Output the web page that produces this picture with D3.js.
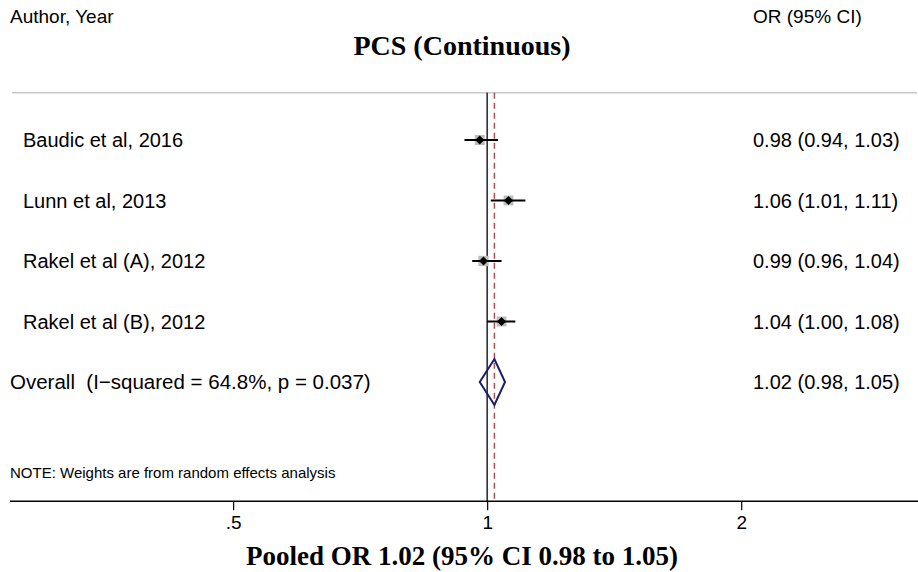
<!DOCTYPE html>
<html>
<head>
<meta charset="utf-8">
<script src="https://cdn.jsdelivr.net/npm/d3@7"></script>
<style>
  html, body { margin: 0; padding: 0; background: #fff; }
  svg { display: block; }
  text { white-space: pre; }
  .sans { font-family: "Liberation Sans", Arial, Helvetica, sans-serif; fill: #000; }
  .serif { font-family: "Liberation Serif", "Times New Roman", Times, serif; font-weight: bold; fill: #000; }
</style>
</head>
<body>
<svg id="chart" width="918" height="572"></svg>
<script>
// Study-level estimates (odds ratios with 95% CI)
const studies = ["Baudic et al, 2016", "Lunn et al, 2013", "Rakel et al (A), 2012", "Rakel et al (B), 2012"];
const or     = [0.98, 1.06, 0.99, 1.04];
const lower  = [0.94, 1.01, 0.96, 1.00];
const upper  = [1.03, 1.11, 1.04, 1.08];
const weights = [25.0, 24.0, 26.5, 24.5];   // random-effects weights (%)

// Pooled estimate
const pooled = { label: "Overall  (I\u2212squared = 64.8%, p = 0.037)", or: 1.02, lower: 0.98, upper: 1.05 };

const tickValues = [0.5, 1, 2];
const tickLabels = [".5", "1", "2"];

const svg = d3.select("#chart");
const W = 918;

// log-scaled OR axis
const x = d3.scaleLog().domain([0.272, 3.24]).range([10, 918]);
// row positions: 0..3 studies, 4 overall, 5.5 note; top rule and axis outside
const y = d3.scaleLinear().domain([0, 4]).range([140, 382]);
const yTop = y(-0.78), yAxis = y(5.97);

const fmt = d3.format(".2f");
const ciText = (e, l, u) => `${fmt(e)} (${fmt(l)}, ${fmt(u)})`;
const colX = 753;

// headers
svg.append("text").attr("class", "sans").attr("x", 10).attr("y", 23)
  .attr("font-size", 19).text("Author, Year");
svg.append("text").attr("class", "sans").attr("x", colX).attr("y", 23)
  .attr("font-size", 19).text("OR (95% CI)");
svg.append("text").attr("class", "serif").attr("x", 462).attr("y", 55)
  .attr("text-anchor", "middle").attr("font-size", 28).text("PCS (Continuous)");

// top rule
svg.append("line").attr("x1", 12).attr("x2", 917).attr("y1", yTop).attr("y2", yTop)
  .attr("stroke", "#c8c8c8").attr("stroke-width", 1.5);

// null line at OR = 1
svg.append("line").attr("x1", x(1)).attr("x2", x(1)).attr("y1", yTop).attr("y2", yAxis)
  .attr("stroke", "#222").attr("stroke-width", 1.5);

// pooled estimate line
svg.append("line").attr("x1", x(pooled.or)).attr("x2", x(pooled.or)).attr("y1", yTop).attr("y2", yAxis)
  .attr("stroke", "#a8505a").attr("stroke-width", 1.5).attr("stroke-dasharray", "6,4");

// weight boxes
const box = d3.scaleSqrt().domain([0, 25]).range([0, 10]);
const rows = studies.map((s, i) => ({ s, i, or: or[i], lo: lower[i], hi: upper[i], w: weights[i] }));

const g = svg.append("g");
g.selectAll("rect.wbox").data(rows).join("rect").attr("class", "wbox")
  .attr("x", d => x(d.or) - box(d.w) / 2)
  .attr("y", d => y(d.i) - box(d.w) / 2)
  .attr("width", d => box(d.w)).attr("height", d => box(d.w))
  .attr("fill", "#bdbdbd");

g.selectAll("line.ci").data(rows).join("line").attr("class", "ci")
  .attr("x1", d => x(d.lo)).attr("x2", d => x(d.hi))
  .attr("y1", d => y(d.i)).attr("y2", d => y(d.i))
  .attr("stroke", "#000").attr("stroke-width", 2);

g.selectAll("path.pt").data(rows).join("path").attr("class", "pt")
  .attr("transform", d => `translate(${x(d.or)},${y(d.i)})`)
  .attr("d", "M0,-4.5L4.5,0L0,4.5L-4.5,0Z")
  .attr("fill", "#000");

// study labels and estimates
g.selectAll("text.lab").data(rows).join("text").attr("class", "lab sans")
  .attr("x", 23).attr("y", d => y(d.i) + 7).attr("font-size", 20).text(d => d.s);
g.selectAll("text.est").data(rows).join("text").attr("class", "est sans")
  .attr("x", colX).attr("y", d => y(d.i) + 7).attr("font-size", 20)
  .text(d => ciText(d.or, d.lo, d.hi));

// pooled diamond
const yp = y(4);
svg.append("path")
  .attr("d", `M${x(pooled.lower)},${yp}L${x(pooled.or)},${yp - 23}L${x(pooled.upper)},${yp}L${x(pooled.or)},${yp + 23}Z`)
  .attr("fill", "none").attr("stroke", "#1c1c6c").attr("stroke-width", 2);
svg.append("text").attr("class", "sans").attr("x", 10).attr("y", yp + 7)
  .attr("font-size", 20.5).text(pooled.label);
svg.append("text").attr("class", "sans").attr("x", colX).attr("y", yp + 7)
  .attr("font-size", 20).text(ciText(pooled.or, pooled.lower, pooled.upper));

// note
svg.append("text").attr("class", "sans").attr("x", 10).attr("y", y(5.5) + 5)
  .attr("font-size", 15).text("NOTE: Weights are from random effects analysis");

// x axis
const axis = d3.axisBottom(x).tickValues(tickValues).tickSize(9).tickPadding(5)
  .tickFormat((d, i) => tickLabels[i]);
const ax = svg.append("g").attr("transform", `translate(0,${yAxis})`).call(axis);
ax.select(".domain").remove();
ax.selectAll(".tick line").attr("stroke", "#000").attr("stroke-width", 1.2);
ax.selectAll(".tick text").attr("font-family", "'Liberation Sans', Arial, sans-serif")
  .attr("font-size", 19).attr("fill", "#000");
svg.append("line").attr("x1", 10).attr("x2", W).attr("y1", yAxis).attr("y2", yAxis)
  .attr("stroke", "#000").attr("stroke-width", 1.5);

// bottom caption
svg.append("text").attr("class", "serif").attr("x", 462).attr("y", 565)
  .attr("text-anchor", "middle").attr("font-size", 27)
  .text(`Pooled OR ${fmt(pooled.or)} (95% CI ${fmt(pooled.lower)} to ${fmt(pooled.upper)})`);
</script>
</body>
</html>
